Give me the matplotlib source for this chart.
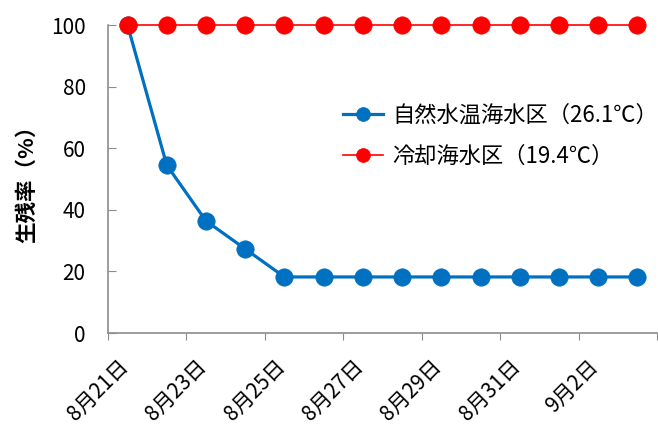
import matplotlib
matplotlib.use("Agg")
import matplotlib.pyplot as plt
import matplotlib.transforms as mtransforms

plt.rcParams['font.family'] = ['Noto Sans CJK JP', 'DejaVu Sans']

# daily survival rate (%) from 8/21 to 9/3
days = ['8/21', '8/22', '8/23', '8/24', '8/25', '8/26', '8/27',
        '8/28', '8/29', '8/30', '8/31', '9/1', '9/2', '9/3']
natural = [100, 54.5, 36.4, 27.3, 18.2, 18.2, 18.2,
           18.2, 18.2, 18.2, 18.2, 18.2, 18.2, 18.2]
cooled = [100] * 14
tick_labels = ['8月21日', '8月23日', '8月25日', '8月27日',
               '8月29日', '8月31日', '9月2日', '']
natural_label = '自然水温海水区（26.1℃）'
cooled_label = '冷却海水区（19.4℃）'

blue = '#0070C0'
red = '#FF0000'
axis_gray = '#8C8C8C'

fig = plt.figure(figsize=(6.58, 4.26), dpi=100)
ax = fig.add_axes([0.164, 0.2183, 0.8345, 0.723])

x = list(range(len(days)))
ax.plot(x, natural, color=blue, lw=2.3, marker='o', ms=12.5, mew=0.5,
        clip_on=False, zorder=3, label=natural_label)
ax.plot(x, cooled, color=red, lw=1.2, marker='o', ms=12.5, mew=0.5,
        clip_on=False, zorder=4, label=cooled_label)

ax.set_xlim(-0.5, len(days) - 0.5)
ax.set_ylim(0, 100)
ax.set_yticks(range(0, 101, 20))
ax.set_xticks([i - 0.5 for i in range(0, len(days) + 1, 2)])
ax.set_xticklabels(tick_labels, rotation=45, ha='right', va='center',
                   rotation_mode='anchor', fontsize=15)

ax.tick_params(axis='y', labelsize=15, direction='in', length=6,
               color=axis_gray, pad=16)
ax.tick_params(axis='x', length=5, color=axis_gray, pad=3)

# shift rotated date labels so they sit under the tick marks
# (after tick_params, which resets the label transforms)
offset = mtransforms.ScaledTranslation(0.17, -0.19, fig.dpi_scale_trans)
for lab in ax.get_xticklabels():
    lab.set_transform(lab.get_transform() + offset)

for side in ['top', 'right']:
    ax.spines[side].set_visible(False)
for side in ['left', 'bottom']:
    ax.spines[side].set_color(axis_gray)
    ax.spines[side].set_linewidth(1.2)

ax.set_ylabel('生残率（%）', fontsize=15.5, fontweight='bold', labelpad=10)

ax.legend(loc='center left', bbox_to_anchor=(343 / 658, 1 - 135.5 / 426),
          bbox_transform=fig.transFigure, frameon=False, borderpad=0,
          borderaxespad=0, fontsize=16, handlelength=1.8, handletextpad=0.4,
          labelspacing=0.8, markerscale=0.8)

fig.savefig('out.png', dpi=100)
